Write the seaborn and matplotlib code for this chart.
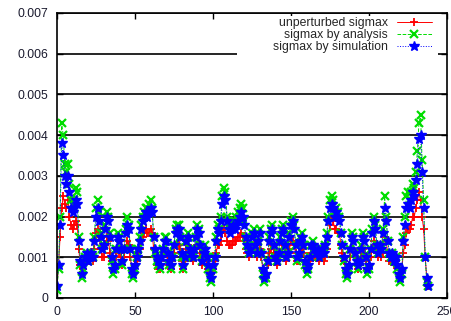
import matplotlib
matplotlib.use("Agg")
import matplotlib.pyplot as plt
from matplotlib.patches import Rectangle
import numpy as np
import seaborn as sns

# sigmax values, in units of 1e-4, one per element index
sigma_unperturbed = [
    3, 8, 15, 22, 25, 23, 22, 24, 20, 18,
    17, 18, 19, 18, 12, 8, 6, 7, 9, 10,
    9, 9, 10, 9, 12, 16, 17, 15, 12, 10,
    10, 13, 15, 14, 11, 9, 7, 8, 10, 12,
    11, 10, 8, 10, 12, 14, 13, 10, 7, 6,
    8, 9, 11, 12, 14, 15, 16, 17, 16, 16,
    17, 16, 12, 10, 8, 7, 7, 9, 10, 11,
    11, 9, 8, 7, 9, 11, 13, 13, 13, 12,
    9, 7, 9, 12, 13, 11, 10, 9, 10, 12,
    13, 13, 11, 8, 10, 10, 9, 7, 6, 6,
    7, 9, 11, 13, 13, 14, 16, 17, 16, 14,
    13, 13, 13, 14, 14, 14, 15, 15, 16, 15,
    14, 12, 11, 10, 11, 12, 13, 11, 10, 11,
    12, 10, 7, 5, 6, 8, 11, 12, 13, 11,
    9, 8, 10, 11, 12, 13, 11, 9, 10, 12,
    14, 14, 13, 11, 9, 9, 11, 12, 11, 9,
    7, 8, 9, 11, 11, 10, 10, 10, 9, 10,
    10, 9, 10, 12, 15, 18, 20, 19, 17, 17,
    16, 16, 13, 11, 9, 7, 6, 8, 10, 12,
    12, 10, 8, 7, 8, 10, 12, 11, 9, 7,
    8, 10, 12, 14, 13, 11, 10, 11, 10, 11,
    15, 14, 11, 9, 9, 10, 8, 9, 8, 6,
    5, 7, 11, 13, 16, 17, 17, 18, 20, 20,
    22, 24, 26, 24, 20, 17, 10, 5, 3,
]
sigma_analysis = [
    2, 7, 20, 43, 40, 33, 31, 33, 28, 24,
    23, 24, 27, 26, 15, 8, 5, 7, 10, 11,
    9, 10, 11, 10, 15, 22, 24, 21, 16, 12,
    13, 18, 21, 20, 16, 9, 6, 7, 12, 16,
    15, 12, 8, 12, 17, 20, 18, 12, 6, 5,
    7, 10, 12, 15, 18, 20, 21, 22, 22, 23,
    24, 22, 15, 11, 9, 8, 7, 10, 12, 15,
    15, 11, 8, 7, 10, 13, 17, 18, 18, 15,
    10, 7, 10, 14, 16, 12, 10, 10, 12, 15,
    18, 17, 13, 9, 11, 13, 10, 7, 5, 4,
    7, 10, 15, 18, 17, 20, 25, 27, 26, 20,
    18, 17, 18, 19, 19, 20, 21, 22, 23, 22,
    19, 15, 13, 11, 12, 16, 17, 13, 11, 14,
    17, 11, 6, 4, 5, 9, 15, 17, 18, 13,
    10, 9, 11, 15, 17, 18, 13, 10, 11, 16,
    19, 20, 18, 13, 9, 10, 15, 16, 13, 8,
    6, 7, 10, 13, 14, 12, 11, 12, 10, 11,
    12, 11, 13, 16, 20, 24, 25, 24, 21, 22,
    21, 20, 16, 13, 9, 6, 5, 7, 12, 16,
    15, 11, 9, 7, 9, 13, 16, 15, 10, 6,
    7, 12, 17, 20, 18, 13, 11, 13, 12, 17,
    25, 20, 14, 11, 10, 11, 9, 10, 7, 5,
    4, 6, 15, 20, 25, 26, 24, 26, 28, 27,
    31, 36, 43, 45, 34, 24, 10, 4, 3,
]
sigma_simulation = [
    3, 8, 18, 38, 35, 30, 28, 30, 26, 22,
    21, 22, 24, 23, 14, 9, 6, 8, 10, 11,
    9, 10, 11, 10, 14, 20, 22, 19, 15, 12,
    13, 17, 20, 19, 15, 10, 7, 8, 12, 15,
    14, 12, 9, 12, 16, 18, 17, 12, 7, 6,
    8, 10, 12, 14, 17, 19, 20, 21, 20, 21,
    22, 21, 15, 12, 10, 9, 8, 10, 12, 14,
    14, 11, 9, 8, 10, 13, 16, 17, 17, 15,
    11, 8, 10, 14, 15, 12, 11, 10, 12, 15,
    17, 16, 13, 9, 11, 12, 10, 8, 6, 5,
    8, 10, 14, 17, 16, 19, 23, 25, 24, 19,
    17, 16, 17, 18, 17, 18, 19, 20, 21, 20,
    18, 15, 13, 11, 12, 15, 16, 13, 11, 14,
    16, 11, 7, 5, 6, 9, 14, 16, 17, 13,
    10, 9, 11, 14, 16, 17, 13, 10, 11, 15,
    18, 19, 17, 13, 10, 11, 14, 15, 13, 9,
    7, 8, 10, 13, 13, 12, 11, 12, 10, 11,
    12, 11, 13, 15, 19, 22, 23, 22, 20, 21,
    20, 19, 16, 13, 10, 7, 6, 8, 12, 15,
    14, 11, 9, 8, 9, 12, 15, 14, 10, 7,
    8, 12, 16, 19, 17, 13, 11, 13, 12, 16,
    22, 19, 14, 11, 10, 11, 9, 10, 8, 6,
    5, 7, 14, 18, 22, 23, 22, 24, 26, 25,
    29, 33, 39, 40, 31, 22, 10, 5, 3,
]
indices = np.arange(len(sigma_simulation))

x_ticks = [0, 50, 100, 150, 200, 250]
y_ticks = [0, 0.001, 0.002, 0.003, 0.004, 0.005, 0.006, 0.007]

sns.set_style("ticks")
plt.rcParams["font.family"] = ["Liberation Sans", "DejaVu Sans"]

fig = plt.figure(figsize=(4.52, 3.21), dpi=100)
ax = fig.add_axes([0.126, 0.0717, 0.863, 0.888])

serie = [
    ("unperturbed sigmax", sigma_unperturbed, "#ff0000", "+", "-", 6, 1.3),
    ("sigmax by analysis", sigma_analysis, "#00dd00", "x", "--", 5.5, 1.6),
    ("sigmax by simulation", sigma_simulation, "#0000ff", "*", ":", 7.5, 1.0),
]
for nome, valori, colore, marker, ls, ms, mew in serie:
    sns.lineplot(
        x=indices, y=np.array(valori) * 1e-4, ax=ax,
        color=colore, marker=marker, linestyle=ls, linewidth=0.7,
        markersize=ms, markeredgecolor=colore, markeredgewidth=mew,
        errorbar=None, label=nome,
    )

ax.set_xlim(0, 250)
ax.set_ylim(0, 0.007)
ax.set_xticks(x_ticks)
ax.set_yticks(y_ticks)
ax.set_yticklabels(["0" if v == 0 else f"{v:.3f}" for v in y_ticks])
ax.set_xlabel("")
ax.set_ylabel("")

ax.set_axisbelow(True)
ax.yaxis.grid(True, color="black", linewidth=1.2)
ax.xaxis.grid(False)
for s in ax.spines.values():
    s.set_visible(True)
    s.set_color("black")
    s.set_linewidth(1.2)

ax.tick_params(axis="both", direction="in", length=4, width=1, color="black",
               top=True, right=True, labelsize=8.8, labelcolor="#1a1a2e")
ax.tick_params(axis="x", pad=6)
ax.tick_params(axis="y", pad=6)

# area bianca della legenda (copre la griglia come nel grafico gnuplot)
ax.add_patch(Rectangle((0.4615, 0.842), 0.515, 0.146, transform=ax.transAxes,
                       facecolor="white", edgecolor="none", zorder=1))

ax.legend(loc="upper right", bbox_to_anchor=(0.9615, 0.985), markerfirst=False,
          frameon=False, fontsize=8.8, handlelength=2.9, handletextpad=0.7,
          labelspacing=0.0, borderpad=0, borderaxespad=0)

plt.savefig("out.png", dpi=100)
